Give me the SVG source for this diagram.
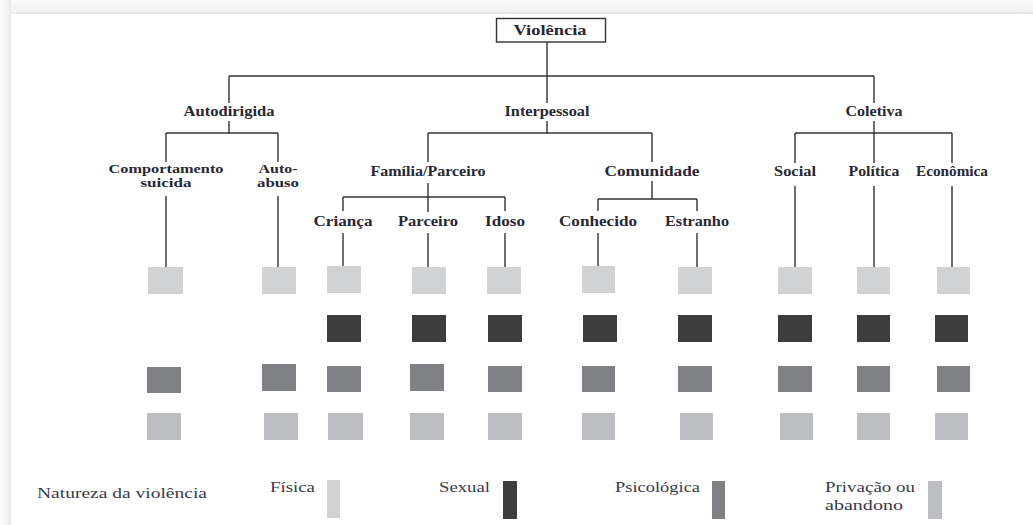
<svg xmlns="http://www.w3.org/2000/svg" width="1033" height="525" viewBox="0 0 1033 525">
<defs>
<linearGradient id="topband" x1="0" y1="0" x2="0" y2="1">
<stop offset="0" stop-color="#fafafa"/><stop offset="0.8" stop-color="#f3f3f3"/><stop offset="1" stop-color="#e6e6e6"/>
</linearGradient>
<linearGradient id="leftband" x1="0" y1="0" x2="1" y2="0">
<stop offset="0" stop-color="#fafafa"/><stop offset="0.7" stop-color="#f3f3f3"/><stop offset="1" stop-color="#e8e8e8"/>
</linearGradient>
</defs>
<style>
.lbl{font-family:"Liberation Serif","Times New Roman",serif;font-weight:bold;font-size:14px;fill:#282834;text-anchor:middle}
.two{font-size:12.5px}
.leg{font-family:"Liberation Serif","Times New Roman",serif;font-size:15px;fill:#3a3a48}
.ln{stroke:#333;stroke-width:1.4;fill:none}
.fis{fill:#d1d2d4}
.sex{fill:#3d3d3e}
.psi{fill:#808184}
.pri{fill:#bcbdc0}
</style>
<rect x="0" y="0" width="1033" height="525" fill="#ffffff"/>
<rect x="0" y="0" width="1033" height="14" fill="url(#topband)"/>
<rect x="0" y="0" width="11" height="525" fill="url(#leftband)"/>

<g id="connectors">
<path class="ln" d="M547,42 V103 M229,76 H874 M229,76 V103 M874,76 V103"/>
<path class="ln" d="M229,121 V133 M166,133 H278 M166,133 V162 M278,133 V162 M166,196 V267 M278,196 V267"/>
<path class="ln" d="M547,121 V133 M428,133 H652 M428,133 V162 M652,133 V162"/>
<path class="ln" d="M428,183 V212 M343,197 H505 M343,197 V211 M505,197 V211 M343,233 V266 M428,233 V267 M505,233 V267"/>
<path class="ln" d="M652,181 V199 M598,199 H697 M598,199 V211 M697,199 V211 M598,233 V266 M697,233 V267"/>
<path class="ln" d="M874,121 V163 M795,133 H952 M795,133 V163 M952,133 V163 M795,186 V267 M874,186 V267 M952,186 V267"/>
</g>

<g id="violencia">
<rect x="496.5" y="18.5" width="109" height="23.5" fill="#fff" stroke="#333" stroke-width="1.4"/>
<text class="lbl" x="550" y="35" textLength="73" lengthAdjust="spacingAndGlyphs">Violência</text>
</g>
<g id="autodirigida"><text class="lbl" x="229" y="116" textLength="91" lengthAdjust="spacingAndGlyphs">Autodirigida</text></g>
<g id="interpessoal"><text class="lbl" x="547" y="116" textLength="85" lengthAdjust="spacingAndGlyphs">Interpessoal</text></g>
<g id="coletiva"><text class="lbl" x="874" y="116" textLength="57" lengthAdjust="spacingAndGlyphs">Coletiva</text></g>

<g id="comportamento-suicida">
<text class="lbl two" x="166" y="173" textLength="115" lengthAdjust="spacingAndGlyphs">Comportamento</text>
<text class="lbl two" x="166" y="187" textLength="51" lengthAdjust="spacingAndGlyphs">suicida</text>
<rect class="fis" x="148" y="267" width="35" height="27"/>
<rect class="psi" x="147" y="367" width="34" height="26"/>
<rect class="pri" x="147" y="413" width="34" height="27"/>
</g>
<g id="auto-abuso">
<text class="lbl two" x="278" y="173" textLength="39" lengthAdjust="spacingAndGlyphs">Auto-</text>
<text class="lbl two" x="278" y="187" textLength="42" lengthAdjust="spacingAndGlyphs">abuso</text>
<rect class="fis" x="262" y="267" width="34" height="27"/>
<rect class="psi" x="262" y="364" width="34" height="27"/>
<rect class="pri" x="264" y="413" width="34" height="27"/>
</g>
<g id="familia-parceiro"><text class="lbl" x="428" y="176" textLength="115" lengthAdjust="spacingAndGlyphs">Família/Parceiro</text></g>
<g id="comunidade"><text class="lbl" x="652" y="176" textLength="95" lengthAdjust="spacingAndGlyphs">Comunidade</text></g>

<g id="crianca">
<text class="lbl" x="343" y="226" textLength="59" lengthAdjust="spacingAndGlyphs">Criança</text>
<rect class="fis" x="327" y="266" width="34" height="27"/>
<rect class="sex" x="327" y="315" width="34" height="27"/>
<rect class="psi" x="327" y="366" width="34" height="26"/>
<rect class="pri" x="328" y="413" width="35" height="27"/>
</g>
<g id="parceiro">
<text class="lbl" x="428" y="226" textLength="60" lengthAdjust="spacingAndGlyphs">Parceiro</text>
<rect class="fis" x="412" y="267" width="34" height="27"/>
<rect class="sex" x="412" y="315" width="34" height="27"/>
<rect class="psi" x="410" y="364" width="34" height="27"/>
<rect class="pri" x="410" y="413" width="34" height="27"/>
</g>
<g id="idoso">
<text class="lbl" x="505" y="226" textLength="40" lengthAdjust="spacingAndGlyphs">Idoso</text>
<rect class="fis" x="487" y="267" width="34" height="27"/>
<rect class="sex" x="488" y="315" width="34" height="27"/>
<rect class="psi" x="488" y="366" width="34" height="26"/>
<rect class="pri" x="488" y="413" width="34" height="27"/>
</g>
<g id="conhecido">
<text class="lbl" x="598" y="226" textLength="78" lengthAdjust="spacingAndGlyphs">Conhecido</text>
<rect class="fis" x="582" y="266" width="33" height="27"/>
<rect class="sex" x="583" y="315" width="34" height="27"/>
<rect class="psi" x="582" y="366" width="33" height="26"/>
<rect class="pri" x="582" y="413" width="33" height="27"/>
</g>
<g id="estranho">
<text class="lbl" x="697" y="226" textLength="64" lengthAdjust="spacingAndGlyphs">Estranho</text>
<rect class="fis" x="678" y="267" width="34" height="27"/>
<rect class="sex" x="678" y="315" width="34" height="27"/>
<rect class="psi" x="678" y="366" width="34" height="26"/>
<rect class="pri" x="680" y="413" width="33" height="27"/>
</g>
<g id="social">
<text class="lbl" x="795" y="176" textLength="42" lengthAdjust="spacingAndGlyphs">Social</text>
<rect class="fis" x="778" y="267" width="34" height="27"/>
<rect class="sex" x="778" y="315" width="34" height="27"/>
<rect class="psi" x="778" y="366" width="34" height="26"/>
<rect class="pri" x="780" y="413" width="33" height="27"/>
</g>
<g id="politica">
<text class="lbl" x="874" y="176" textLength="51" lengthAdjust="spacingAndGlyphs">Política</text>
<rect class="fis" x="857" y="267" width="33" height="27"/>
<rect class="sex" x="857" y="315" width="33" height="27"/>
<rect class="psi" x="857" y="366" width="33" height="26"/>
<rect class="pri" x="857" y="413" width="33" height="27"/>
</g>
<g id="economica">
<text class="lbl" x="952" y="176" textLength="72" lengthAdjust="spacingAndGlyphs">Econômica</text>
<rect class="fis" x="937" y="267" width="33" height="27"/>
<rect class="sex" x="935" y="315" width="33" height="27"/>
<rect class="psi" x="937" y="366" width="33" height="26"/>
<rect class="pri" x="935" y="413" width="33" height="27"/>
</g>

<g id="legend">
<text class="leg" x="37" y="498" textLength="170" lengthAdjust="spacingAndGlyphs">Natureza da violência</text>
<text class="leg" x="270" y="492" textLength="45" lengthAdjust="spacingAndGlyphs">Física</text>
<rect class="fis" x="327" y="480" width="13" height="38"/>
<text class="leg" x="439" y="492" textLength="51" lengthAdjust="spacingAndGlyphs">Sexual</text>
<rect class="sex" x="503" y="481" width="14" height="38"/>
<text class="leg" x="615" y="492" textLength="85" lengthAdjust="spacingAndGlyphs">Psicológica</text>
<rect class="psi" x="712" y="481" width="13" height="38"/>
<text class="leg" x="825" y="492" textLength="90" lengthAdjust="spacingAndGlyphs">Privação ou</text>
<text class="leg" x="825" y="510" textLength="78" lengthAdjust="spacingAndGlyphs">abandono</text>
<rect class="pri" x="928" y="481" width="14" height="38"/>
</g>
</svg>
